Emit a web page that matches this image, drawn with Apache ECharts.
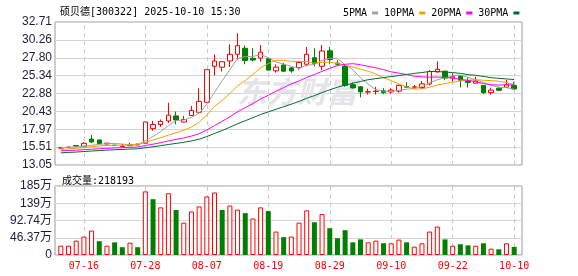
<!DOCTYPE html>
<html>
<head>
<meta charset="utf-8">
<script src="https://cdn.jsdelivr.net/npm/echarts@6/dist/echarts.min.js"></script>
<style>
html, body { margin: 0; padding: 0; background: #fff; }
#chart { width: 578px; height: 276px; }
</style>
</head>
<body>
<div id="chart"></div>
<script>
// trading days shown
const dates = [
    '07-11','07-14','07-15','07-16','07-17','07-18','07-21','07-22','07-23','07-24',
    '07-25','07-28','07-29','07-30','07-31','08-01','08-04','08-05','08-06','08-07',
    '08-08','08-11','08-12','08-13','08-14','08-15','08-18','08-19','08-20','08-21',
    '08-22','08-25','08-26','08-27','08-28','08-29','09-01','09-02','09-03','09-04',
    '09-05','09-08','09-09','09-10','09-11','09-12','09-15','09-16','09-17','09-18',
    '09-19','09-22','09-23','09-24','09-25','09-26','09-29','09-30','10-09','10-10'
];
// [open, close, low, high]
const ohlc = [
    [15.38, 15.42, 15.32, 15.48], [15.45, 15.50, 15.40, 15.58], [15.72, 15.65, 15.60, 15.80],
    [15.62, 16.03, 15.60, 16.21], [16.62, 16.21, 16.07, 17.18], [16.49, 16.00, 15.98, 16.52],
    [15.95, 16.05, 15.85, 16.10], [15.78, 15.74, 15.70, 15.80], [15.60, 15.62, 15.50, 15.95],
    [15.70, 15.86, 15.66, 16.10], [15.92, 15.80, 15.76, 15.95], [16.04, 18.96, 16.04, 18.96],
    [18.05, 18.62, 17.75, 19.10], [18.62, 19.05, 18.30, 19.30], [19.10, 19.90, 18.80, 21.60],
    [19.80, 19.25, 18.65, 20.40], [18.95, 19.30, 18.90, 19.80], [19.85, 20.55, 19.80, 21.15],
    [20.30, 21.80, 20.30, 23.60], [21.67, 26.16, 21.67, 26.16], [26.62, 27.35, 25.33, 28.27],
    [26.50, 27.25, 25.90, 27.30], [27.35, 28.27, 26.52, 29.64], [28.27, 29.45, 27.50, 31.16],
    [29.10, 27.42, 26.90, 29.50], [27.72, 27.48, 27.30, 29.10], [27.75, 28.55, 27.25, 29.55],
    [27.65, 26.10, 26.05, 27.80], [26.00, 26.50, 25.75, 26.90], [26.80, 25.95, 25.88, 27.07],
    [26.40, 25.98, 25.74, 26.50], [26.43, 27.15, 26.15, 27.35], [26.90, 28.27, 26.62, 29.27],
    [27.80, 27.00, 26.62, 29.10], [26.62, 28.72, 26.07, 29.55], [28.75, 27.55, 26.90, 29.30],
    [27.05, 26.90, 26.65, 27.45], [26.65, 24.00, 23.80, 26.90], [24.10, 23.65, 23.55, 24.40],
    [23.80, 23.10, 22.35, 23.90], [23.08, 23.12, 22.75, 23.55], [23.15, 23.20, 22.75, 23.80],
    [23.25, 23.00, 22.80, 23.60], [23.10, 23.35, 22.85, 23.60], [23.20, 24.00, 23.00, 24.10],
    [23.85, 23.75, 23.70, 24.45], [23.75, 23.80, 23.50, 24.05], [23.70, 24.20, 23.50, 24.60],
    [24.20, 25.90, 24.00, 26.10], [25.85, 26.20, 25.75, 27.30], [25.95, 25.00, 24.70, 26.00],
    [25.00, 25.20, 24.50, 25.65], [25.30, 24.70, 23.70, 25.35], [24.55, 24.40, 23.70, 25.10],
    [24.30, 24.60, 24.25, 25.20], [24.00, 23.00, 22.85, 24.05], [23.00, 23.36, 22.70, 23.70],
    [23.60, 23.32, 23.20, 23.80], [23.75, 24.10, 23.65, 24.75], [24.00, 23.50, 23.45, 24.45]
];
const volumes = [
    250000, 250000, 387000, 495000, 657000, 370000, 250000, 340000, 210000, 330000,
    210000, 1710000, 1500000, 1280000, 1660000, 1210000, 870000, 1170000, 1305000, 1575000,
    1680000, 1210000, 1330000, 1220000, 1125000, 980000, 1280000, 1180000, 630000, 480000,
    495000, 870000, 1200000, 880000, 1100000, 720000, 450000, 666000, 340000, 420000,
    340000, 387000, 315000, 315000, 414000, 340000, 225000, 315000, 630000, 765000,
    420000, 250000, 290000, 260000, 250000, 315000, 170000, 153000, 315000, 218193
];
// closes before the first shown day, only used to start the moving averages
const priorCloses = [
    13.85, 13.95, 14.00, 14.10, 14.05, 14.20, 14.25, 14.30, 14.40, 14.50,
    14.60, 14.75, 14.70, 14.85, 14.80, 14.90, 14.75, 14.85, 14.90, 14.90,
    14.85, 14.90, 15.00, 15.00, 15.05, 15.30, 15.45, 15.50, 15.55
];
const priceTicks = ['13.05', '15.51', '17.97', '20.43', '22.88', '25.34', '27.80', '30.26', '32.71'];
const volumeTicks = ['0', '46.37万', '92.74万', '139万', '185万'];
const xLabels = ['07-16', '07-28', '08-07', '08-19', '08-29', '09-10', '09-22', '10-10'];
const maNames = ['5PMA', '10PMA', '20PMA', '30PMA'];
const maDays = [5, 10, 20, 30];
const maColors = ['#a0a0a0', '#f2a200', '#ff00ff', '#006a32'];

const PRICE_MIN = 13.05, PRICE_MAX = 32.71, PRICE_STEP = (PRICE_MAX - PRICE_MIN) / 8;
const VOL_MAX = 1854800, VOL_STEP = VOL_MAX / 4;
const UP = '#ff0000', DOWN = '#008000';
const MONO = "'DejaVu Sans Mono', 'Noto Sans CJK SC', monospace";
const SANS = "'Liberation Sans', Arial, 'Noto Sans CJK SC', sans-serif";

const closes = ohlc.map(d => d[1]);
const allCloses = priorCloses.concat(closes);

function calcMA(n) {
    let out = [];
    for (let i = 0; i < closes.length; i++) {
        let end = priorCloses.length + i;
        let sum = 0;
        for (let j = end - n + 1; j <= end; j++) sum += allCloses[j];
        out.push(+(sum / n).toFixed(3));
    }
    return out;
}

// volume colour follows the change against the previous close
const volumeData = volumes.map((v, i) => {
    let up = i === 0 || closes[i] >= closes[i - 1];
    return {
        value: v,
        itemStyle: up ? { color: '#fff', borderColor: UP, borderWidth: 1 } : { color: DOWN }
    };
});

// dashed date lines, kept on their own empty series so they sit behind the marks
function dashSeries(xi, yi) {
    return {
        type: 'line',
        xAxisIndex: xi, yAxisIndex: yi,
        data: [],
        z: 1,
        silent: true,
        markLine: {
            z: 1,
            silent: true,
            symbol: 'none',
            label: { show: false },
            lineStyle: { color: '#c8c8c8', type: [4, 4], width: 1 },
            data: xLabels.map(d => ({ xAxis: d }))
        }
    };
}

const chart = echarts.init(document.getElementById('chart'));

const option = {
    animation: false,
    title: [
        {
            text: '硕贝德[300322] 2025-10-10 15:30',
            left: 55, top: 2,
            textStyle: { fontFamily: MONO, fontSize: 10, fontWeight: 'normal', color: '#000' }
        },
        {
            text: '成交量:218193',
            left: 57, top: 171,
            textStyle: { fontFamily: MONO, fontSize: 10, fontWeight: 'normal', color: '#000' }
        }
    ],
    legend: {
        left: 338, top: 3,
        align: 'right',
        icon: 'rect',
        itemWidth: 6, itemHeight: 3,
        itemGap: 6,
        data: maNames,
        textStyle: { fontFamily: MONO, fontSize: 10, color: '#000' }
    },
    graphic: [{
        type: 'text',
        left: 237, top: 77,
        z: 1, silent: true,
        style: {
            text: '东方财富',
            font: 'italic bold 30px "Noto Sans CJK SC"',
            fill: '#e4e4ea'
        }
    }],
    grid: [
        // frames with the split lines
        { left: 55, top: 22, width: 467, height: 143, show: true, borderColor: '#999', borderWidth: 1 },
        { left: 55, top: 186, width: 467, height: 69, show: true, borderColor: '#999', borderWidth: 1 },
        // data areas
        { left: 57, top: 22, width: 461, height: 143 },
        { left: 57, top: 186, width: 461, height: 69 }
    ],
    xAxis: [
        { type: 'value', gridIndex: 0, min: 0, max: 1, show: false },
        { type: 'value', gridIndex: 1, min: 0, max: 1, show: false },
        {
            type: 'category', gridIndex: 2, data: dates,
            axisLine: { show: false }, axisTick: { show: false }, axisLabel: { show: false },
            splitLine: { show: false }
        },
        {
            type: 'category', gridIndex: 3, data: dates,
            axisLine: { show: false }, axisTick: { show: false },
            splitLine: { show: false },
            axisLabel: {
                interval: (i, v) => xLabels.indexOf(v) >= 0,
                color: UP, fontFamily: MONO, fontSize: 10, margin: 6
            }
        }
    ],
    yAxis: [
        {
            type: 'value', gridIndex: 0, min: PRICE_MIN, max: PRICE_MAX, interval: PRICE_STEP,
            axisLine: { show: false }, axisTick: { show: false },
            splitLine: { lineStyle: { color: '#d4d4d4' } },
            axisLabel: {
                margin: 3, color: '#1c1c3c', fontFamily: SANS, fontSize: 12,
                formatter: v => priceTicks[Math.round((v - PRICE_MIN) / PRICE_STEP)]
            }
        },
        {
            type: 'value', gridIndex: 1, min: 0, max: VOL_MAX, interval: VOL_STEP,
            axisLine: { show: false }, axisTick: { show: false },
            splitLine: { lineStyle: { color: '#d4d4d4' } },
            axisLabel: {
                margin: 3, color: '#1c1c3c', fontFamily: SANS, fontSize: 12,
                formatter: v => volumeTicks[Math.round(v / VOL_STEP)]
            }
        },
        { type: 'value', gridIndex: 2, min: PRICE_MIN, max: PRICE_MAX, show: false, splitLine: { show: false } },
        { type: 'value', gridIndex: 3, min: 0, max: VOL_MAX, show: false, splitLine: { show: false } }
    ],
    series: [
        dashSeries(2, 2),
        dashSeries(3, 3),
        {
            name: 'K',
            type: 'candlestick',
            xAxisIndex: 2, yAxisIndex: 2,
            barWidth: 5,
            z: 3,
            data: ohlc.map(d => [d[0], d[1], d[2], d[3]]),
            itemStyle: {
                color: '#fff', color0: DOWN,
                borderColor: UP, borderColor0: DOWN, borderWidth: 1
            }
        },
        {
            name: 'VOL',
            type: 'bar',
            xAxisIndex: 3, yAxisIndex: 3,
            barWidth: 5,
            z: 3,
            data: volumeData
        }
    ].concat(maNames.map((name, k) => ({
        name: name,
        type: 'line',
        xAxisIndex: 2, yAxisIndex: 2,
        symbol: 'none',
        z: 4,
        data: calcMA(maDays[k]),
        itemStyle: { color: maColors[k] },
        lineStyle: { color: maColors[k], width: 1 }
    })))
};

chart.setOption(option);
</script>
</body>
</html>
